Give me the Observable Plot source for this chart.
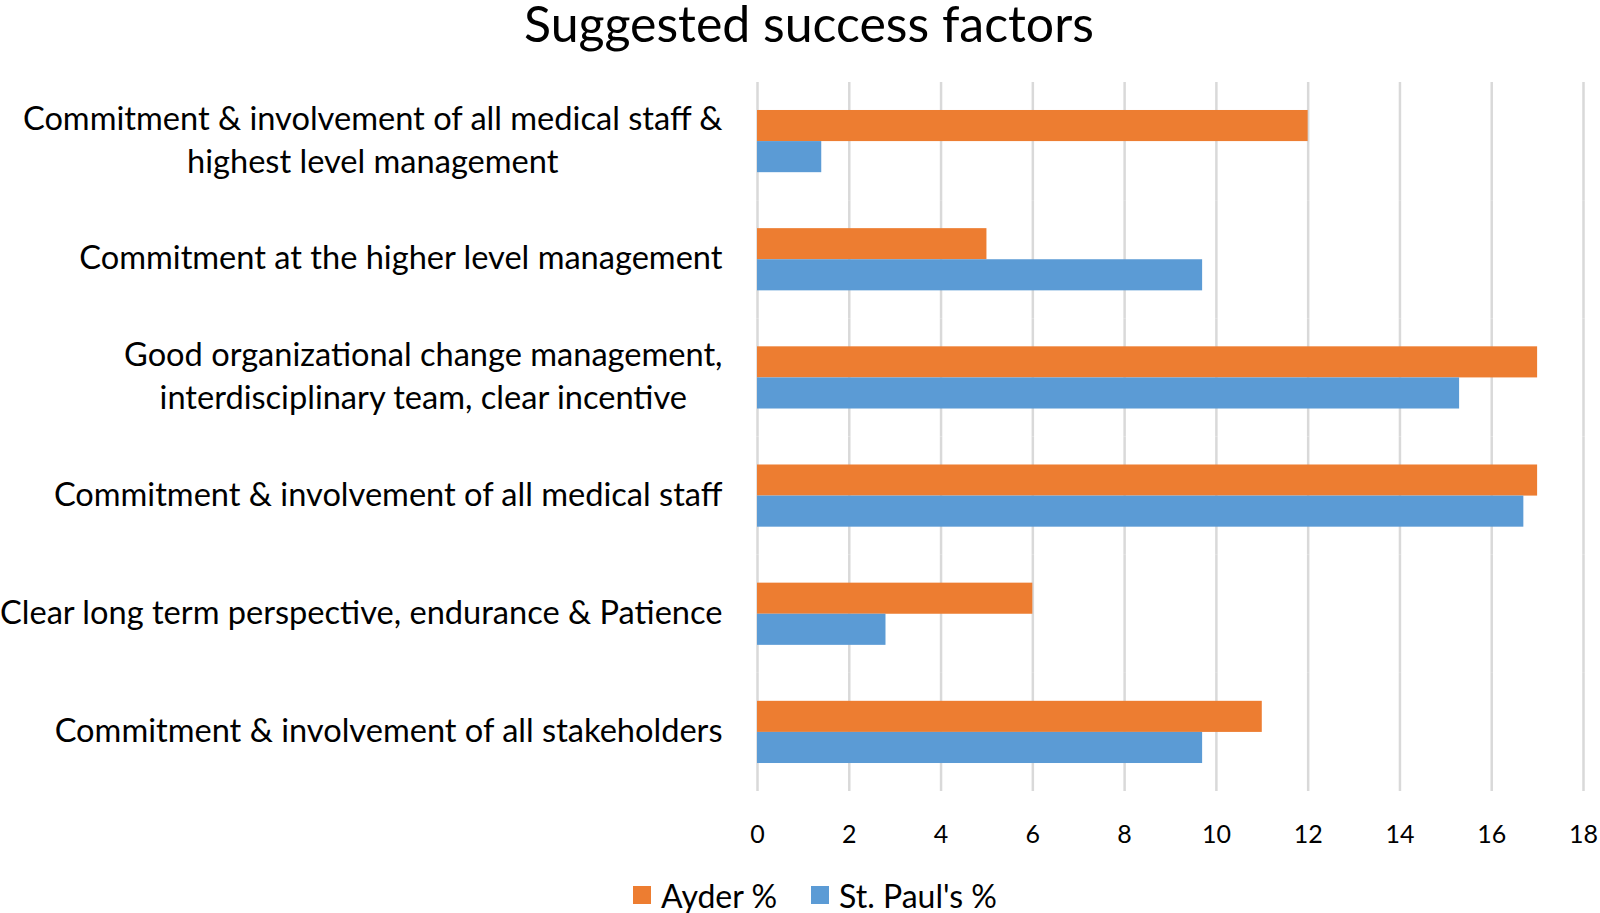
<!DOCTYPE html>
<html>
<head>
<meta charset="utf-8">
<script src="https://cdn.jsdelivr.net/npm/d3@7"></script>
<script src="https://cdn.jsdelivr.net/npm/@observablehq/plot@0.6"></script>
<style>
  html, body { margin: 0; padding: 0; background: #fff; }
  body { width: 1600px; height: 913px; position: relative; overflow: hidden; font-family: Lato, "Open Sans", sans-serif; color: #000; }
  #title { position: absolute; z-index: 2; left: 9px; top: -2px; width: 1600px; text-align: center; font-size: 50px; line-height: 50px; height: 56px; }
  #chart { position: absolute; z-index: 1; left: 0; top: 46px; }
  #legend { position: absolute; z-index: 2; left: 15px; top: 877px; width: 1600px; height: 36px; display: flex; justify-content: center; align-items: center; font-size: 32px; }
  .item { display: flex; align-items: center; margin: 0 17px; }
  .sw { width: 18px; height: 18px; margin-right: 10px; }
</style>
</head>
<body>
<div id="title">Suggested success factors</div>
<div id="chart"></div>
<div id="legend"></div>
<script>
const categories = [
  "Commitment & involvement of all medical staff &\nhighest level management",
  "Commitment at the higher level management",
  "Good organizational change management,\ninterdisciplinary team, clear incentive",
  "Commitment & involvement of all medical staff",
  "Clear long term perspective, endurance & Patience",
  "Commitment & involvement of all stakeholders"
];
const series = ["Ayder %", "St. Paul's %"];
const ayder = [12, 5, 17, 17, 6, 11];
const stPauls = [1.4, 9.7, 15.3, 16.7, 2.8, 9.7];
const colors = ["#ED7D31", "#5B9BD5"];
const xTicks = [0, 2, 4, 6, 8, 10, 12, 14, 16, 18];

const data = [];
categories.forEach((c, i) => {
  data.push({category: c, series: series[0], value: ayder[i]});
  data.push({category: c, series: series[1], value: stPauls[i]});
});

const chart = Plot.plot({
  width: 1600,
  height: 820,
  marginLeft: 757,
  marginRight: 17,
  marginTop: 36,
  marginBottom: 75,
  style: {fontFamily: "Lato, 'Open Sans', sans-serif", color: "#000", background: "transparent", overflow: "visible"},
  x: {domain: [0, 18]},
  fy: {domain: categories, padding: 0, round: false},
  y: {domain: series, paddingInner: 0, paddingOuter: 0.9, round: false, axis: null},
  color: {domain: series, range: colors},
  marks: [
    Plot.gridX(xTicks, {stroke: "#d9d9d9", strokeOpacity: 1, strokeWidth: 2.5}),
    Plot.barX(data, {x: "value", y: "series", fy: "category", fill: "series"}),
    Plot.axisX(xTicks, {anchor: "bottom", tickSize: 0, tickPadding: 34, fontSize: 25, label: null}),
    Plot.axisFy({anchor: "left", tickSize: 0, tickPadding: 35, fontSize: 32.6, lineHeight: 1.31, dy: -4, label: null})
  ]
});
document.getElementById("chart").appendChild(chart);

// center multi-line category labels within their block (as in the original)
chart.querySelectorAll('g[aria-label="fy-axis tick label"] text').forEach(t => {
  const spans = t.querySelectorAll("tspan");
  if (spans.length > 1) {
    let maxW = 0;
    spans.forEach(s => { maxW = Math.max(maxW, s.getComputedTextLength()); });
    t.setAttribute("text-anchor", "middle");
    spans.forEach(s => s.setAttribute("x", -maxW / 2));
  }
});

const legend = document.getElementById("legend");
series.forEach((s, i) => {
  const item = document.createElement("div");
  item.className = "item";
  const sw = document.createElement("div");
  sw.className = "sw";
  sw.style.background = colors[i];
  const label = document.createElement("span");
  label.textContent = s;
  item.appendChild(sw);
  item.appendChild(label);
  legend.appendChild(item);
});
</script>
</body>
</html>
